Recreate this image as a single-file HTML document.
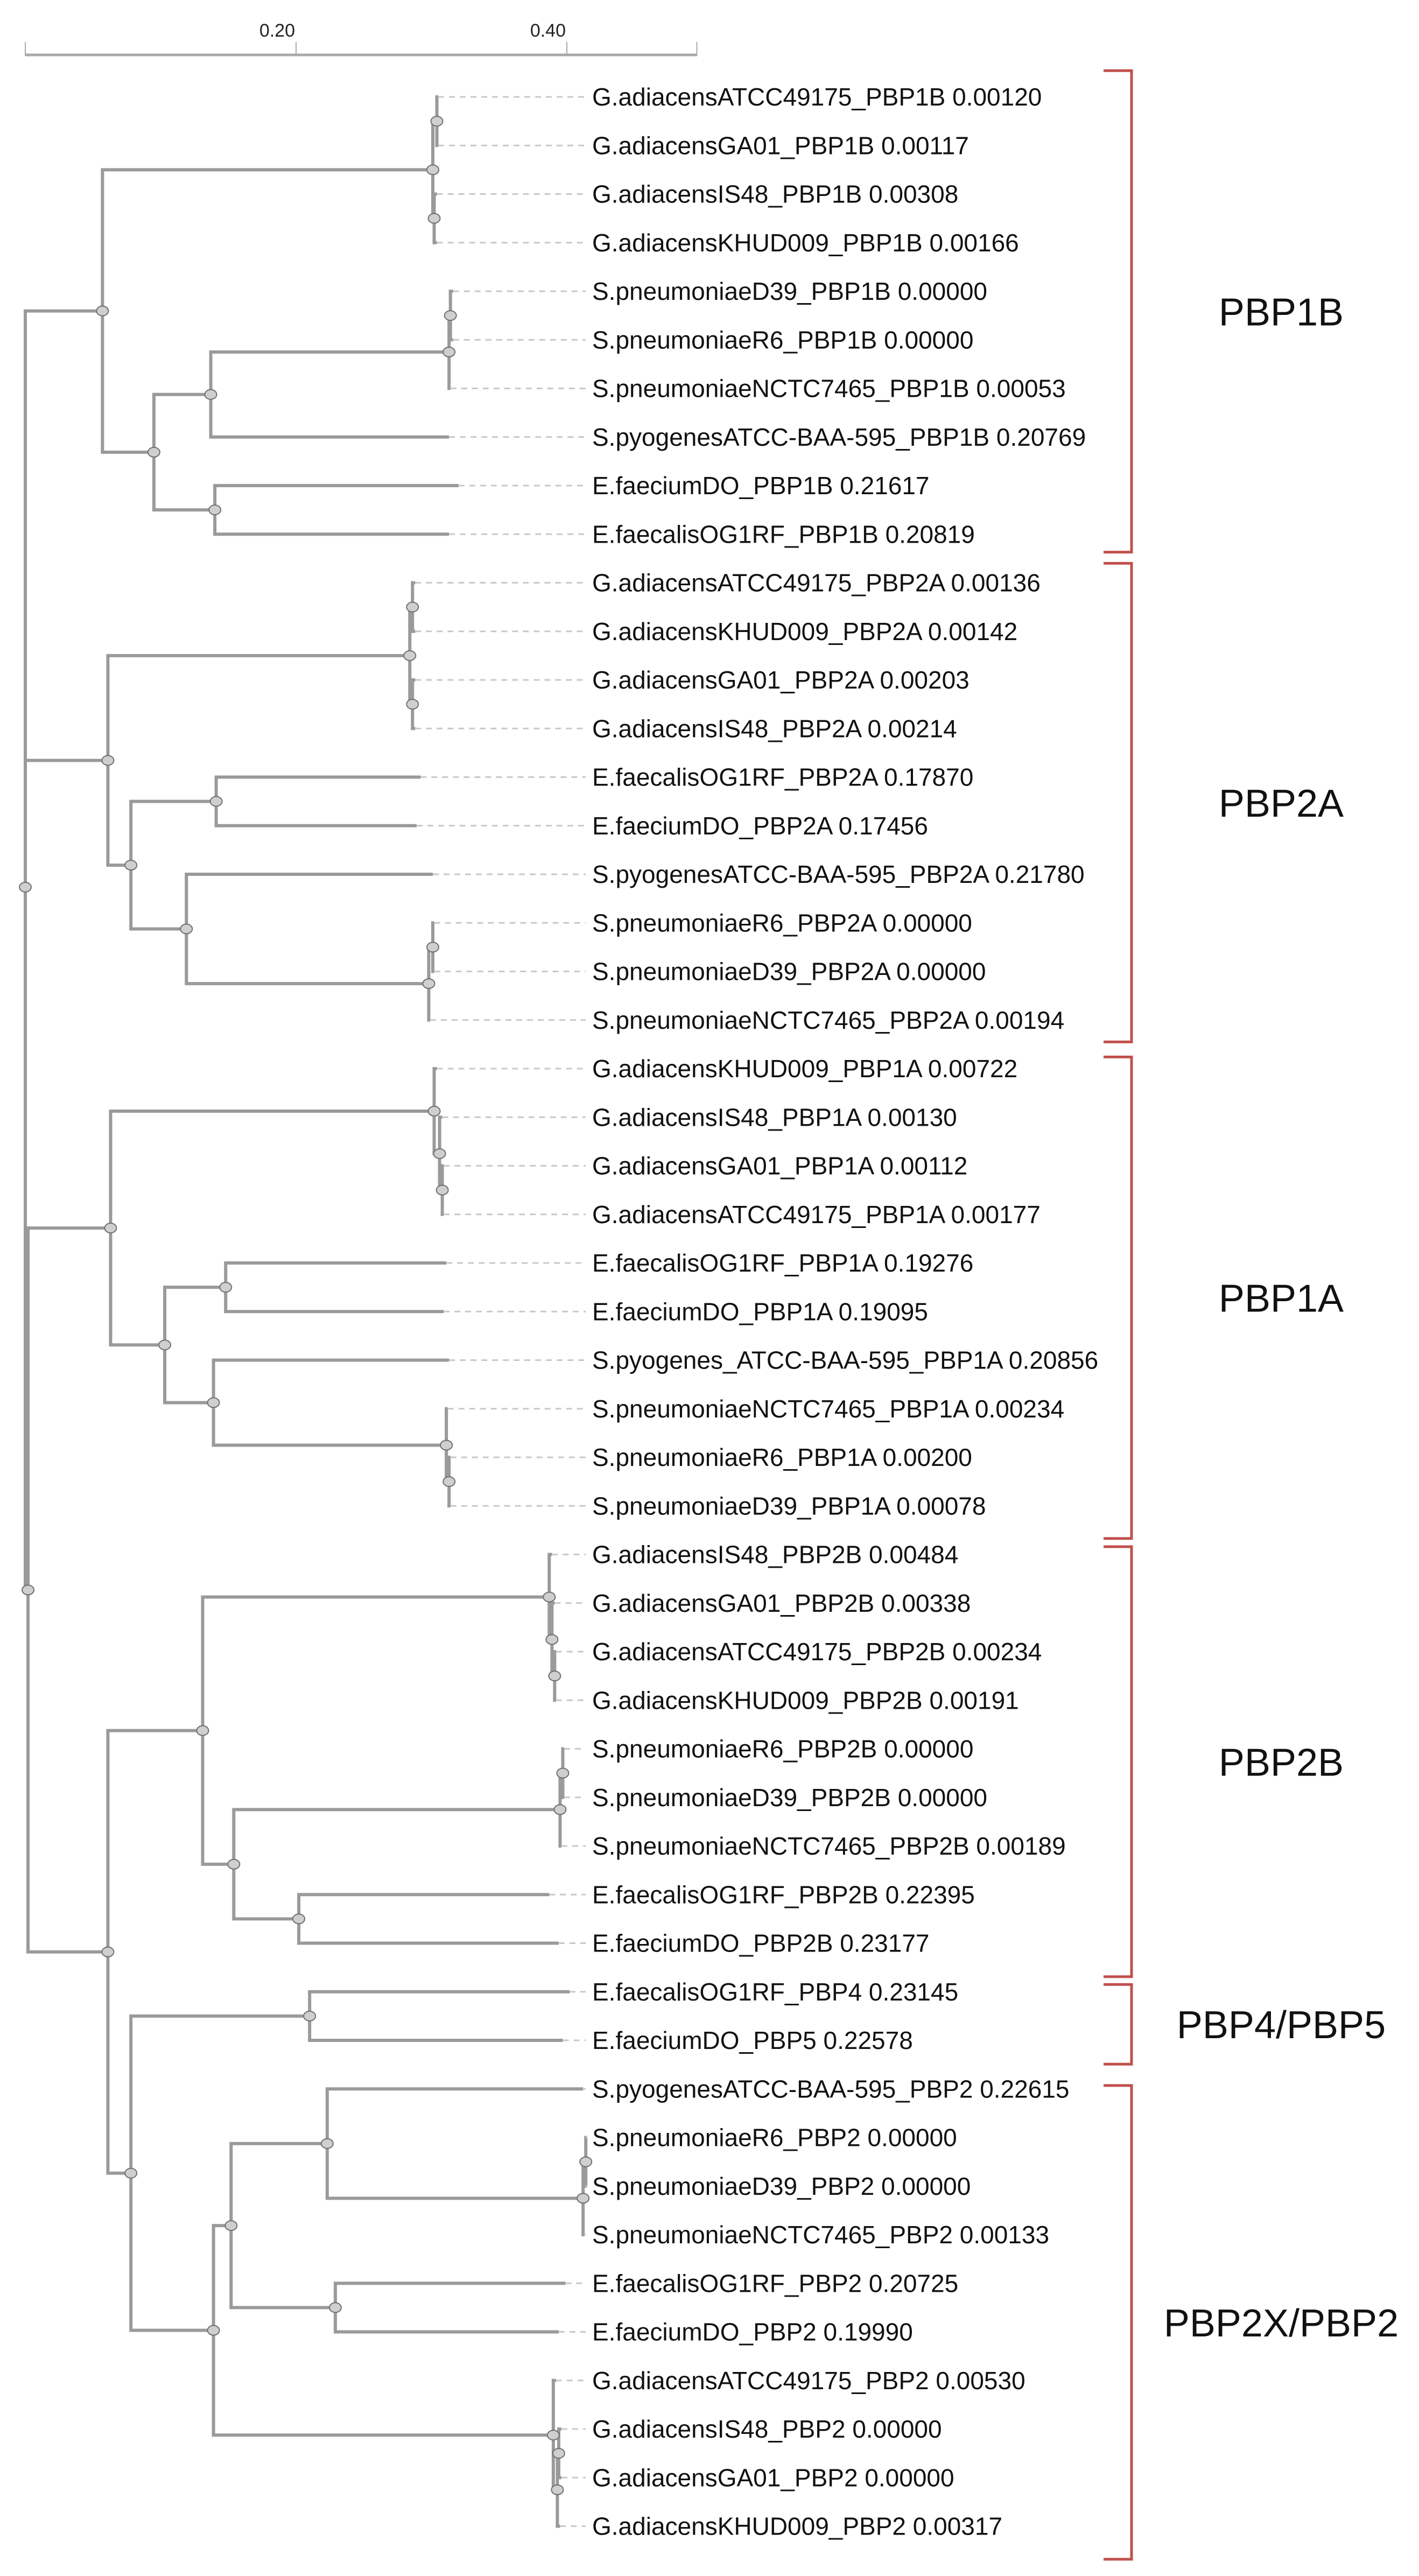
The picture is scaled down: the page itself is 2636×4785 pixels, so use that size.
<!DOCTYPE html>
<html><head><meta charset="utf-8"><style>
html,body{margin:0;padding:0;background:#fff;}
svg{display:block;font-family:"Liberation Sans",Arial,sans-serif;}
</style></head><body>
<svg id="chart" width="2636" height="4785" viewBox="0 0 2636 4785" xmlns="http://www.w3.org/2000/svg">
<g id="scale"></g>
<g id="branches"></g>
<g id="leaders"></g>
<g id="nodes"></g>
<g id="labels"></g>
<g id="groups"></g>
</svg>
<script>
const leafNames = [
"G.adiacensATCC49175_PBP1B","G.adiacensGA01_PBP1B","G.adiacensIS48_PBP1B","G.adiacensKHUD009_PBP1B",
"S.pneumoniaeD39_PBP1B","S.pneumoniaeR6_PBP1B","S.pneumoniaeNCTC7465_PBP1B","S.pyogenesATCC-BAA-595_PBP1B",
"E.faeciumDO_PBP1B","E.faecalisOG1RF_PBP1B",
"G.adiacensATCC49175_PBP2A","G.adiacensKHUD009_PBP2A","G.adiacensGA01_PBP2A","G.adiacensIS48_PBP2A",
"E.faecalisOG1RF_PBP2A","E.faeciumDO_PBP2A","S.pyogenesATCC-BAA-595_PBP2A","S.pneumoniaeR6_PBP2A",
"S.pneumoniaeD39_PBP2A","S.pneumoniaeNCTC7465_PBP2A",
"G.adiacensKHUD009_PBP1A","G.adiacensIS48_PBP1A","G.adiacensGA01_PBP1A","G.adiacensATCC49175_PBP1A",
"E.faecalisOG1RF_PBP1A","E.faeciumDO_PBP1A","S.pyogenes_ATCC-BAA-595_PBP1A","S.pneumoniaeNCTC7465_PBP1A",
"S.pneumoniaeR6_PBP1A","S.pneumoniaeD39_PBP1A",
"G.adiacensIS48_PBP2B","G.adiacensGA01_PBP2B","G.adiacensATCC49175_PBP2B","G.adiacensKHUD009_PBP2B",
"S.pneumoniaeR6_PBP2B","S.pneumoniaeD39_PBP2B","S.pneumoniaeNCTC7465_PBP2B","E.faecalisOG1RF_PBP2B",
"E.faeciumDO_PBP2B",
"E.faecalisOG1RF_PBP4","E.faeciumDO_PBP5",
"S.pyogenesATCC-BAA-595_PBP2","S.pneumoniaeR6_PBP2","S.pneumoniaeD39_PBP2","S.pneumoniaeNCTC7465_PBP2",
"E.faecalisOG1RF_PBP2","E.faeciumDO_PBP2","G.adiacensATCC49175_PBP2","G.adiacensIS48_PBP2",
"G.adiacensGA01_PBP2","G.adiacensKHUD009_PBP2"];
const leafValues = ["0.00120","0.00117","0.00308","0.00166","0.00000","0.00000","0.00053","0.20769","0.21617","0.20819",
"0.00136","0.00142","0.00203","0.00214","0.17870","0.17456","0.21780","0.00000","0.00000","0.00194",
"0.00722","0.00130","0.00112","0.00177","0.19276","0.19095","0.20856","0.00234","0.00200","0.00078",
"0.00484","0.00338","0.00234","0.00191","0.00000","0.00000","0.00189","0.22395","0.23177",
"0.23145","0.22578",
"0.22615","0.00000","0.00000","0.00133","0.20725","0.19990","0.00530","0.00000","0.00000","0.00317"];
const scaleTicks = [0.2, 0.4];
const scaleTickLabels = ["0.20", "0.40"];
const scaleMax = 0.496;
const groupNames = ["PBP1B","PBP2A","PBP1A","PBP2B","PBP4/PBP5","PBP2X/PBP2"];
const groupFirstLeaf = [0,10,20,30,39,41];
const groupLastLeaf = [9,19,29,38,40,50];
// bracket offsets (layout only, in leaf-step units relative to first/last leaf)
const bracketTopOff = [-0.54,-0.4,-0.24,-0.16,-0.15,-0.07];
const bracketBotOff = [0.37,0.45,0.67,0.69,0.49,0.68];

function L(i,d){return {i:i,d:d};}
function N(d){return {d:d,c:Array.prototype.slice.call(arguments,1)};}
const tree = N(0,
 N(0.057, N(0.301, N(0.304, L(0,0.305),L(1,0.305)), N(0.302, L(2,0.304),L(3,0.304))),
   N(0.095, N(0.137, N(0.313, N(0.314, L(4,0.316),L(5,0.316)), L(6,0.314)), L(7,0.313)),
            N(0.140, L(8,0.320), L(9,0.313)))),
 N(0.061, N(0.284, N(0.286, L(10,0.288),L(11,0.288)), N(0.286, L(12,0.288),L(13,0.288))),
   N(0.078, N(0.141, L(14,0.292), L(15,0.289)),
            N(0.119, L(16,0.301), N(0.298, N(0.301, L(17,0.302),L(18,0.302)), L(19,0.299))))),
 N(0.002,
   N(0.063, N(0.302, L(20,0.304), N(0.306, L(21,0.308), N(0.308, L(22,0.309), L(23,0.309)))),
     N(0.103, N(0.148, L(24,0.311), L(25,0.309)),
              N(0.139, L(26,0.313), N(0.311, L(27,0.312), N(0.313, L(28,0.314), L(29,0.314)))))),
   N(0.061,
     N(0.131, N(0.387, L(30,0.389), N(0.389, L(31,0.391), N(0.391, L(32,0.392), L(33,0.392)))),
              N(0.154, N(0.395, N(0.397, L(34,0.398), L(35,0.398)), L(36,0.396)),
                       N(0.202, L(37,0.387), L(38,0.394)))),
     N(0.078, N(0.210, L(39,0.402), L(40,0.397)),
              N(0.139, N(0.152, N(0.223, L(41,0.412), N(0.412, N(0.414, L(42,0.415), L(43,0.415)), L(44,0.413))),
                                N(0.229, L(45,0.399), L(46,0.394))),
                       N(0.390, L(47,0.392), N(0.393, N(0.394, L(48,0.396), L(49,0.396)), L(50,0.395)))))))
);

const NS="http://www.w3.org/2000/svg";
const X0=47, PXU=2515, Y0=180, STEP=90.25, LEADER_END=1088, LABEL_X=1100;
function xs(d){return X0+d*PXU;}
function ys(i){return Y0+i*STEP;}
function mk(tag,attrs,parent){const e=document.createElementNS(NS,tag);for(const k in attrs)e.setAttribute(k,attrs[k]);parent.appendChild(e);return e;}
const gB=document.getElementById('branches'),gL=document.getElementById('leaders'),gN=document.getElementById('nodes'),gT=document.getElementById('labels'),gG=document.getElementById('groups'),gS=document.getElementById('scale');

function layout(n){
  if(n.c){n.c.forEach(layout);n.y=n.c.reduce((s,c)=>s+c.y,0)/n.c.length;}
  else n.y=ys(n.i);
}
layout(tree);
function draw(n){
  if(!n.c){
    const dl=mk('line',{x1:xs(n.d),y1:n.y,x2:LEADER_END,y2:n.y,stroke:'#c8c8c8','stroke-width':3,'stroke-dasharray':'11 9'},gL);
    
    
    const t=mk('text',{x:LABEL_X,y:n.y+16,'font-size':46,fill:'#111'},gT);
    t.textContent=leafNames[n.i]+' '+leafValues[n.i];
    
    
    return;
  }
  const ymin=Math.min(...n.c.map(c=>c.y)),ymax=Math.max(...n.c.map(c=>c.y));
  const v=mk('line',{x1:xs(n.d),y1:ymin,x2:xs(n.d),y2:ymax,stroke:'#9a9a9a','stroke-width':6},gB);
  
  
  n.c.forEach(c=>{
    const h=mk('line',{x1:xs(n.d)-3,y1:c.y,x2:xs(c.d),y2:c.y,stroke:'#9a9a9a','stroke-width':6},gB);
    
    
    draw(c);
  });
  const e=mk('ellipse',{cx:xs(n.d),cy:n.y,rx:11,ry:9,fill:'#cfcfcf',stroke:'#707070','stroke-width':2},gN);
  
  
}
draw(tree);

// scale bar
const sb=mk('line',{x1:X0,y1:102,x2:xs(scaleMax),y2:102,stroke:'#aaa','stroke-width':5},gS);


[0].concat(scaleTicks).concat([scaleMax]).forEach(v=>{
  const tk=mk('line',{x1:xs(v),y1:78,x2:xs(v),y2:104,stroke:'#aaa','stroke-width':2},gS);
  
  
});
scaleTicks.forEach((v,k)=>{
  const t=mk('text',{x:xs(v)-2,y:68,'font-size':34,fill:'#222','text-anchor':'end'},gS);
  t.textContent=scaleTickLabels[k];
  
  
});

// group brackets
const BX=2102, BX0=2050;
groupNames.forEach((g,k)=>{
  const y1=ys(groupFirstLeaf[k]+bracketTopOff[k]), y2=ys(groupLastLeaf[k]+bracketBotOff[k]);
  const p=mk('path',{d:`M${BX0},${y1} H${BX} V${y2} H${BX0}`,fill:'none',stroke:'#c0504d','stroke-width':5},gG);
  
  
  const ym=(y1+y2)/2;
  const t=mk('text',{x:2380,y:ym+26,'font-size':72,fill:'#111','text-anchor':'middle'},gG);
  t.textContent=g;
  
  
});
</script>
</body></html>
